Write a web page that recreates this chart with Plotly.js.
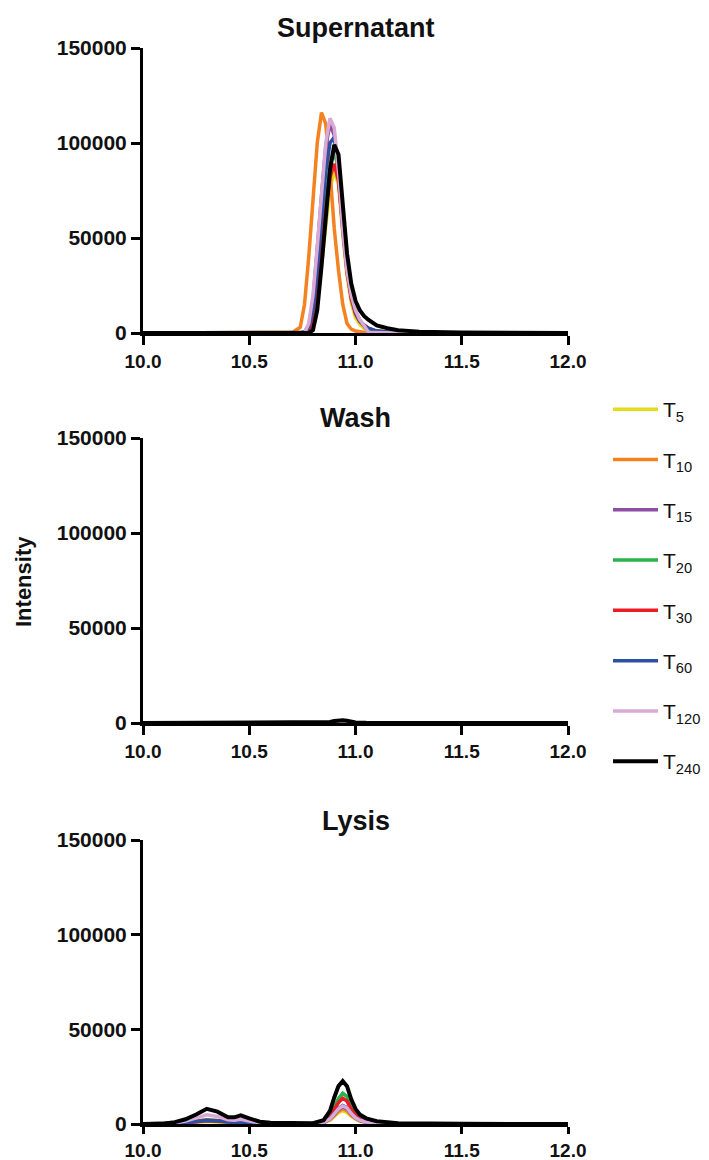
<!DOCTYPE html>
<html>
<head>
<meta charset="utf-8">
<script src="https://cdn.plot.ly/plotly-3.0.1.min.js"></script>
<style>html,body{margin:0;padding:0;background:#fff;}#chart{width:709px;height:1160px;}</style>
</head>
<body>
<div id="chart"></div>
<script>
// Series names and colours
var seriesNames = ["T<sub>5</sub>", "T<sub>10</sub>", "T<sub>15</sub>", "T<sub>20</sub>", "T<sub>30</sub>", "T<sub>60</sub>", "T<sub>120</sub>", "T<sub>240</sub>"];
var seriesColors = ["#E3DC1B", "#F58220", "#8A4FA3", "#2BB24C", "#EC1C24", "#2E4FA3", "#D9AAD6", "#000000"];

// Panel titles
var panelTitles = ["Supernatant", "Wash", "Lysis"];

// Supernatant (retention time grid and intensities)
var supX = [10.0, 10.5, 10.70, 10.74, 10.76, 10.78, 10.80, 10.82, 10.84, 10.86, 10.88, 10.90, 10.92, 10.94, 10.96, 10.98, 11.00, 11.02, 11.04, 11.06, 11.08, 11.10, 11.15, 11.20, 11.30, 11.50, 12.0];
var supT5   = [0,0,0,0,200,800,4000,16000,36000,58000,76000,85000,78000,52000,30000,16000,8000,4500,2500,1500,900,600,300,150,80,0,0];
var supT10  = [0,0,0,3000,15000,40000,70000,100000,116000,110000,85000,55000,33000,15000,5000,2000,1000,600,400,300,200,150,100,50,0,0,0];
var supT15  = [0,0,0,0,500,4000,17000,42000,72000,98000,110000,104000,82000,54000,32000,19000,11000,6500,3500,700,300,200,100,50,0,0,0];
var supT20  = [0,0,0,0,300,1500,7000,22000,45000,70000,88000,95000,87000,60000,36000,20000,11000,6500,4000,2500,1600,1000,500,250,100,0,0];
var supT30  = [0,0,0,0,300,1000,5000,20000,42000,65000,82000,89000,80000,55000,33000,18000,10000,6000,4000,2500,1500,1000,500,300,100,0,0];
var supT60  = [0,0,0,0,500,3000,12000,33000,60000,85000,100000,103000,88000,60000,36000,20000,11000,6500,4000,2500,1500,1000,500,250,100,0,0];
var supT120 = [0,0,0,0,0,5000,20000,45000,75000,100000,113000,108000,85000,55000,33000,20000,12000,7000,4000,500,200,100,50,0,0,0,0];
var supT240 = [0,0,0,0,0,0,1500,12000,35000,62000,86000,99000,94000,68000,42000,26000,17000,12000,9000,7000,5500,4000,2500,1500,700,300,0];

// Wash
var washX = [10.0, 10.5, 10.85, 10.88, 10.90, 10.92, 10.94, 10.96, 10.98, 11.00, 11.05, 11.5, 12.0];
var washT5   = [0,0,0,100,200,300,300,200,100,50,0,0,0];
var washT10  = [0,0,0,150,300,400,350,250,150,50,0,0,0];
var washT15  = [0,0,0,150,300,450,400,300,150,50,0,0,0];
var washT20  = [0,0,0,150,300,450,400,300,150,50,0,0,0];
var washT30  = [0,0,0,150,300,450,400,300,150,50,0,0,0];
var washT60  = [0,0,0,150,300,450,400,300,150,50,0,0,0];
var washT120 = [0,0,100,300,600,800,800,600,300,100,0,0,0];
var washT240 = [0,0,100,500,1000,1400,1500,1200,700,300,100,0,0];

// Lysis
var lysX = [10.0, 10.10, 10.15, 10.20, 10.25, 10.30, 10.35, 10.40, 10.43, 10.46, 10.50, 10.55, 10.60, 10.70, 10.80, 10.85, 10.88, 10.90, 10.92, 10.94, 10.96, 10.98, 11.00, 11.02, 11.05, 11.10, 11.15, 11.20, 11.50, 12.0];
var lysT5   = [0,100,200,500,900,1300,1100,700,600,800,500,200,100,50,100,600,2000,4000,6000,7000,6200,4000,2500,1500,800,400,200,100,0,0];
var lysT10  = [0,100,300,600,1100,1600,1300,800,700,900,600,250,100,50,100,700,2300,4500,6800,8000,7000,4500,2800,1700,900,450,200,100,0,0];
var lysT15  = [0,100,300,700,1300,1900,1600,1000,900,1100,700,300,150,50,100,800,2600,5000,7600,9000,8000,5200,3200,1900,1000,500,250,100,0,0];
var lysT20  = [0,150,400,900,1600,2300,1900,1200,1100,1400,900,350,150,50,150,1400,4600,9000,13500,16300,14500,9300,5600,3400,1900,900,400,200,50,0];
var lysT30  = [0,150,350,800,1400,2000,1700,1100,1000,1200,800,300,150,50,150,1200,3900,7600,11300,13600,12100,7800,4700,2900,1600,800,350,150,50,0];
var lysT60  = [0,100,300,700,1300,1900,1600,1000,900,1100,700,300,150,50,100,900,2800,5500,8200,9800,8700,5600,3400,2100,1100,550,250,100,0,0];
var lysT120 = [0,200,600,1500,3000,4900,4000,2200,2000,2500,1600,600,250,100,150,900,2700,5300,8000,9500,8500,5500,3300,2000,1100,550,250,100,0,0];
var lysT240 = [0,300,1000,2500,5000,8000,6500,3500,3500,4600,3000,1200,600,300,400,2000,7000,14000,20000,22700,20000,13000,8000,5000,3000,1500,800,400,100,0];

// Axis ticks
var xTicks = [10.0, 10.5, 11.0, 11.5, 12.0];
var yTicks = [0, 50000, 100000, 150000];

var panels = [
  {x: supX,  ys: [supT5, supT10, supT15, supT20, supT30, supT60, supT120, supT240], xa: "x",  ya: "y"},
  {x: washX, ys: [washT5, washT10, washT15, washT20, washT30, washT60, washT120, washT240], xa: "x2", ya: "y2"},
  {x: lysX,  ys: [lysT5, lysT10, lysT15, lysT20, lysT30, lysT60, lysT120, lysT240], xa: "x3", ya: "y3"}
];

var traces = [];
panels.forEach(function(p, pi) {
  p.ys.forEach(function(y, si) {
    traces.push({
      type: "scatter", mode: "lines",
      x: p.x, y: y, xaxis: p.xa, yaxis: p.ya,
      name: seriesNames[si], legendgroup: "g" + si,
      showlegend: pi === 0,
      line: {color: seriesColors[si], width: si === 7 ? 4 : 3.5},
      hoverinfo: "skip"
    });
  });
});

var FONT = "Liberation Sans, Arial, sans-serif";
function xax(anchor, tl) {
  return {
    anchor: anchor, range: [10, 12], tickvals: xTicks, tickformat: ".1f",
    showgrid: false, zeroline: false, showline: true, linecolor: "#000", linewidth: 3,
    ticks: "outside", ticklen: tl, tickwidth: 3, tickcolor: "#000",
    tickfont: {family: FONT, size: 19, color: "#111", weight: "bold"}
  };
}
function yax(anchor, domain) {
  return {
    anchor: anchor, domain: domain, range: [0, 150000], tickvals: yTicks, tickformat: "d",
    showgrid: false, zeroline: false, showline: true, linecolor: "#000", linewidth: 3,
    ticks: "outside", ticklen: 9, tickwidth: 3, tickcolor: "#000",
    tickfont: {family: FONT, size: 21, color: "#111", weight: "bold"}
  };
}

var BOTTOM = 1124;
var H = BOTTOM - 48; // plot area height
function py(px) { return (BOTTOM - px) / H; }

var annotations = [
  {text: panelTitles[0], x: 0.5, y: py(28)},
  {text: panelTitles[1], x: 0.5, y: py(418)},
  {text: panelTitles[2], x: 0.5, y: py(821)}
].map(function(a) {
  return {text: "<b>" + a.text + "</b>", xref: "paper", yref: "paper", x: a.x, y: a.y,
    xanchor: "center", yanchor: "middle", showarrow: false,
    font: {family: FONT, size: 27, color: "#111"}};
});
annotations.push({text: "<b>Intensity</b>", xref: "paper", yref: "paper",
  x: (23 - 143) / 425, y: py(582), xanchor: "center", yanchor: "middle",
  textangle: -90, showarrow: false, font: {family: FONT, size: 22, color: "#111"}});

var layout = {
  width: 709, height: 1160,
  margin: {l: 143, r: 141, t: 48, b: 1160 - BOTTOM, autoexpand: false},
  paper_bgcolor: "#fff", plot_bgcolor: "#fff",
  showlegend: true,
  legend: {x: (608 - 143) / 425, xanchor: "left", y: py(389), yanchor: "top",
    font: {family: FONT, size: 21, color: "#111"}, tracegroupgap: 20,
    bgcolor: "rgba(0,0,0,0)", itemwidth: 45},
  xaxis: xax("y", 9), yaxis: yax("x", [py(333), py(48)]),
  xaxis2: xax("y2", 9), yaxis2: yax("x2", [py(723), py(438)]),
  xaxis3: xax("y3", 7), yaxis3: yax("x3", [0, py(840)]),
  annotations: annotations
};

Plotly.newPlot("chart", traces, layout, {displayModeBar: false, staticPlot: true});
</script>
</body>
</html>
